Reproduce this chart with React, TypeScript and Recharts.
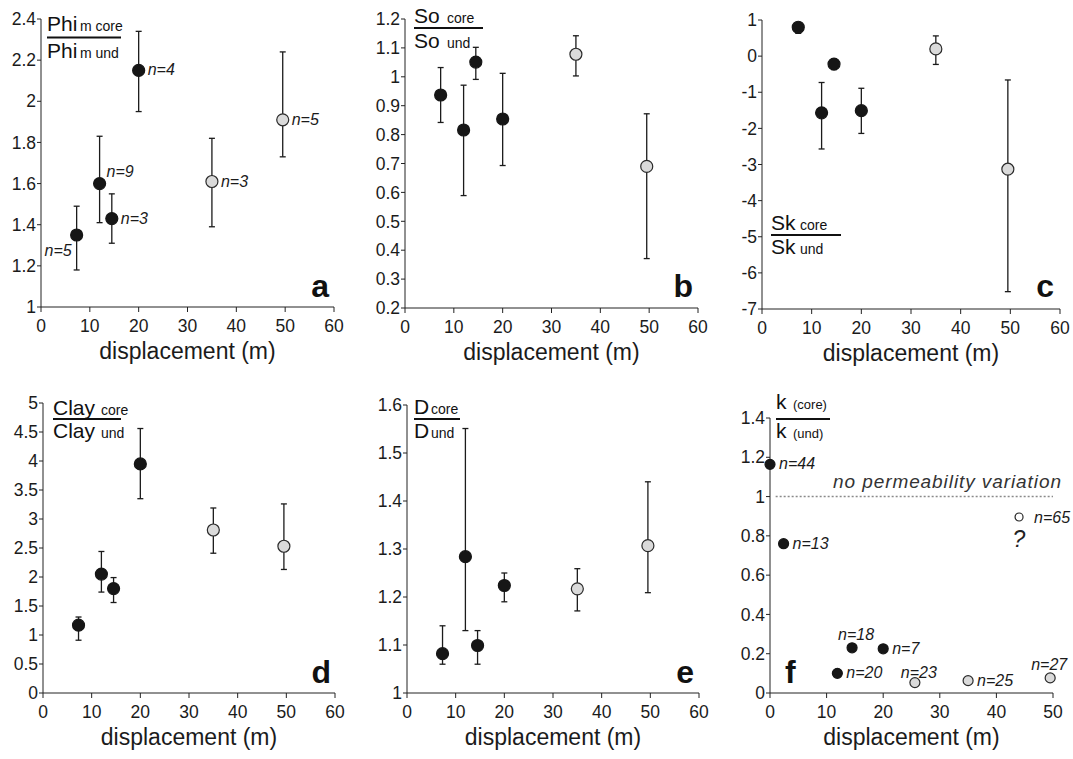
import React from 'react';
import { ScatterChart, Scatter, XAxis, YAxis, ErrorBar, ReferenceLine } from 'recharts';

// shared displacement of the six fault zones (m)
const displacement = [7.3, 12, 14.5, 20, 35, 49.5];
const zoneGroup = ['black', 'black', 'black', 'black', 'gray', 'gray'];

const phiMean = [1.35, 1.6, 1.43, 2.15, 1.61, 1.91];
const phiLow = [1.18, 1.41, 1.31, 1.95, 1.39, 1.73];
const phiHigh = [1.49, 1.83, 1.55, 2.34, 1.82, 2.24];
const phiN = [5, 9, 3, 4, 3, 5];
const phiLabelPlace = ['leftBelow', 'rightUp', 'right', 'right', 'right', 'right'];

const soMean = [0.937, 0.816, 1.051, 0.854, 1.078, 0.69];
const soLow = [0.842, 0.589, 0.991, 0.693, 1.003, 0.371];
const soHigh = [1.032, 0.971, 1.102, 1.012, 1.142, 0.872];

const skMean = [0.8, -1.57, -0.22, -1.51, 0.2, -3.13];
const skLow = [0.63, -2.57, -0.37, -2.14, -0.23, -6.52];
const skHigh = [0.9, -0.73, -0.1, -0.89, 0.56, -0.66];

const clayMean = [1.17, 2.05, 1.8, 3.95, 2.81, 2.53];
const clayLow = [0.91, 1.74, 1.56, 3.35, 2.41, 2.13];
const clayHigh = [1.31, 2.44, 1.99, 4.56, 3.19, 3.26];

const dMean = [1.082, 1.284, 1.099, 1.224, 1.217, 1.307];
const dLow = [1.06, 1.13, 1.06, 1.19, 1.171, 1.209];
const dHigh = [1.14, 1.551, 1.13, 1.25, 1.259, 1.44];

// permeability panel
const kDisp = [0, 2.4, 11.9, 14.5, 20, 25.6, 35, 49.5, 44];
const kRatio = [1.164, 0.76, 0.1, 0.23, 0.225, 0.053, 0.063, 0.077, 0.896];
const kN = [44, 13, 20, 18, 7, 23, 25, 27, 65];
const kGroup = ['black', 'black', 'black', 'black', 'black', 'gray', 'gray', 'gray', 'open'];
const kLabelPlace = ['right', 'right', 'right', 'above', 'right', 'aboveTight', 'right', 'aboveLeft', 'farRight'];

const xTicks60 = [0, 10, 20, 30, 40, 50, 60];
const xTicks50 = [0, 10, 20, 30, 40, 50];

const FONT = '"Liberation Sans", Arial, Helvetica, sans-serif';
const INK = '#1b1b1b';
const AXIS = '#222';

const places: Record<string, { dx: number; dy: number; anchor: 'start' | 'middle' | 'end' }> = {
  right: { dx: 9, dy: 5, anchor: 'start' },
  rightUp: { dx: 7, dy: -7, anchor: 'start' },
  leftBelow: { dx: -5, dy: 21, anchor: 'end' },
  above: { dx: 4, dy: -8, anchor: 'middle' },
  aboveTight: { dx: 4, dy: -5, anchor: 'middle' },
  aboveLeft: { dx: -1, dy: -8, anchor: 'middle' },
  farRight: { dx: 15, dy: 6, anchor: 'start' },
};

const dotStyles: Record<string, { fill: string; stroke: string; r: number }> = {
  black: { fill: '#161616', stroke: '#161616', r: 6 },
  gray: { fill: '#dadada', stroke: '#2a2a2a', r: 6 },
  kblack: { fill: '#161616', stroke: '#161616', r: 5 },
  kgray: { fill: '#dadada', stroke: '#2a2a2a', r: 5 },
  kopen: { fill: '#ffffff', stroke: '#2a2a2a', r: 4 },
};

type Row = { x: number; y: number; err: number[] | null; n: number | null; place: string; g: string };

function buildRows(xs: number[], ys: number[], lo: number[] | null, hi: number[] | null, ns: number[] | null, pl: string[] | null, groups: string[]): Row[] {
  return xs.map((x, i) => ({
    x,
    y: ys[i],
    err: lo && hi ? [ys[i] - lo[i], hi[i] - ys[i]] : null,
    n: ns ? ns[i] : null,
    place: pl ? pl[i] : 'right',
    g: groups[i],
  }));
}

const makeShape = (styleKey: string) => (p: any) => {
  const st = dotStyles[styleKey];
  const { cx, cy, payload } = p;
  const o = places[payload.place] || places.right;
  return (
    <g>
      <circle cx={cx} cy={cy} r={st.r} fill={st.fill} stroke={st.stroke} strokeWidth={1.2} />
      {payload.n != null && (
        <text x={cx + o.dx} y={cy + o.dy} textAnchor={o.anchor} fontSize={16} fontStyle="italic" fill={INK} fontFamily={FONT}>
          n={payload.n}
        </text>
      )}
    </g>
  );
};

interface PanelProps {
  left: number;
  top: number;
  pw: number;
  ph: number;
  xDomain: number[];
  xTicks: number[];
  yDomain: number[];
  yTicks: number[];
  rows: Row[];
  groups: { g: string; style: string }[];
  withErr: boolean;
  refY?: number;
}

const Panel: React.FC<PanelProps> = ({ left, top, pw, ph, xDomain, xTicks, yDomain, yTicks, rows, groups, withErr, refY }) => {
  const mTop = 10;
  const yw = 40;
  const mRight = 25;
  const xh = 60;
  return (
    <div style={{ position: 'absolute', left: left - yw, top: top - mTop }}>
      <ScatterChart width={yw + pw + mRight} height={mTop + ph + xh} margin={{ top: mTop, right: mRight, bottom: 0, left: 0 }}>
        <XAxis
          type="number"
          dataKey="x"
          domain={xDomain}
          ticks={xTicks}
          interval={0}
          height={xh}
          tickSize={5}
          tickMargin={8}
          stroke={AXIS}
          tick={{ fill: INK, fontSize: 17.5, fontFamily: FONT }}
          label={{ value: 'displacement (m)', position: 'insideBottom', offset: 8, fill: INK, fontSize: 23, fontFamily: FONT }}
        />
        <YAxis
          type="number"
          dataKey="y"
          domain={yDomain}
          ticks={yTicks}
          interval={0}
          width={yw}
          tickSize={4}
          tickMargin={1}
          stroke={AXIS}
          tick={{ fill: INK, fontSize: 17.5, fontFamily: FONT }}
        />
        {refY != null && (
          <ReferenceLine segment={[{ x: 1, y: refY }, { x: 50, y: refY }]} stroke="#8a8a8a" strokeWidth={1.5} strokeDasharray="2 2" />
        )}
        {groups.map((gr) => (
          <Scatter key={gr.g} data={rows.filter((r) => r.g === gr.g)} shape={makeShape(gr.style)} isAnimationActive={false}>
            {withErr && <ErrorBar dataKey="err" direction="y" width={3} stroke={INK} strokeWidth={1.3} />}
          </Scatter>
        ))}
      </ScatterChart>
    </div>
  );
};

interface FracProps {
  x: number;
  subX: number;
  y1: number;
  y2: number;
  lineY: number;
  lineEnd: number;
  big: string;
  sub1: string;
  sub2: string;
  subSize?: number;
}

const Frac: React.FC<FracProps> = ({ x, subX, y1, y2, lineY, lineEnd, big, sub1, sub2, subSize = 14 }) => (
  <g fill="#111" fontFamily={FONT}>
    <text x={x} y={y1} fontSize={21}>{big}</text>
    <text x={subX} y={y1} fontSize={subSize}>{sub1}</text>
    <line x1={x} x2={lineEnd} y1={lineY} y2={lineY} stroke="#111" strokeWidth={2} />
    <text x={x} y={y2} fontSize={21}>{big}</text>
    <text x={subX} y={y2} fontSize={subSize}>{sub2}</text>
  </g>
);

const baseGroups = [
  { g: 'black', style: 'black' },
  { g: 'gray', style: 'gray' },
];
const kGroups = [
  { g: 'black', style: 'kblack' },
  { g: 'gray', style: 'kgray' },
  { g: 'open', style: 'kopen' },
];

export default function App() {
  const phiRows = buildRows(displacement, phiMean, phiLow, phiHigh, phiN, phiLabelPlace, zoneGroup);
  const soRows = buildRows(displacement, soMean, soLow, soHigh, null, null, zoneGroup);
  const skRows = buildRows(displacement, skMean, skLow, skHigh, null, null, zoneGroup);
  const clayRows = buildRows(displacement, clayMean, clayLow, clayHigh, null, null, zoneGroup);
  const dRows = buildRows(displacement, dMean, dLow, dHigh, null, null, zoneGroup);
  const kRows = buildRows(kDisp, kRatio, null, null, kN, kLabelPlace, kGroup);

  return (
    <div style={{ position: 'absolute', left: 0, top: 0, width: 1073, height: 759, background: '#fff', fontFamily: FONT }}>
      <Panel left={41} top={19} pw={293} ph={288} xDomain={[0, 60]} xTicks={xTicks60} yDomain={[1, 2.4]}
        yTicks={[1, 1.2, 1.4, 1.6, 1.8, 2, 2.2, 2.4]} rows={phiRows} groups={baseGroups} withErr />
      <Panel left={405} top={19} pw={293} ph={289} xDomain={[0, 60]} xTicks={xTicks60} yDomain={[0.2, 1.2]}
        yTicks={[0.2, 0.3, 0.4, 0.5, 0.6, 0.7, 0.8, 0.9, 1, 1.1, 1.2]} rows={soRows} groups={baseGroups} withErr />
      <Panel left={762} top={20} pw={298} ph={289} xDomain={[0, 60]} xTicks={xTicks60} yDomain={[-7, 1]}
        yTicks={[-7, -6, -5, -4, -3, -2, -1, 0, 1]} rows={skRows} groups={baseGroups} withErr />
      <Panel left={43} top={403} pw={292} ph={290} xDomain={[0, 60]} xTicks={xTicks60} yDomain={[0, 5]}
        yTicks={[0, 0.5, 1, 1.5, 2, 2.5, 3, 3.5, 4, 4.5, 5]} rows={clayRows} groups={baseGroups} withErr />
      <Panel left={407} top={405} pw={292} ph={288} xDomain={[0, 60]} xTicks={xTicks60} yDomain={[1, 1.6]}
        yTicks={[1, 1.1, 1.2, 1.3, 1.4, 1.5, 1.6]} rows={dRows} groups={baseGroups} withErr />
      <Panel left={770} top={418} pw={283} ph={275} xDomain={[0, 50]} xTicks={xTicks50} yDomain={[0, 1.4]}
        yTicks={[0, 0.2, 0.4, 0.6, 0.8, 1, 1.2, 1.4]} rows={kRows} groups={kGroups} withErr={false} refY={1} />

      <svg width={1073} height={759} style={{ position: 'absolute', left: 0, top: 0, pointerEvents: 'none' }}>
        <Frac x={47} subX={80} y1={31} y2={58} lineY={37.5} lineEnd={121} big="Phi" sub1="m core" sub2="m  und" />
        <Frac x={414} subX={447} y1={23} y2={48} lineY={28} lineEnd={483} big="So" sub1="core" sub2="und" />
        <Frac x={771} subX={800} y1={230} y2={254} lineY={235} lineEnd={841} big="Sk" sub1="core" sub2="und" />
        <Frac x={53} subX={101} y1={415} y2={438} lineY={419} lineEnd={121} big="Clay" sub1="core" sub2="und" />
        <Frac x={414} subX={431} y1={414} y2={438} lineY={419} lineEnd={460} big="D" sub1="core" sub2="und" />
        <Frac x={776} subX={793} y1={409} y2={438} lineY={419} lineEnd={830} big="k" sub1="(core)" sub2="(und)" subSize={13} />

        <g fontFamily={FONT} fontWeight="bold" fontSize={32} fill="#111">
          <text x={329} y={297} textAnchor="end">a</text>
          <text x={693} y={297} textAnchor="end">b</text>
          <text x={1054} y={297} textAnchor="end">c</text>
          <text x={331} y={683} textAnchor="end">d</text>
          <text x={694} y={683} textAnchor="end">e</text>
          <text x={785} y={683}>f</text>
        </g>
        <text x={833} y={488} fontSize={19} fontStyle="italic" fill="#333" fontFamily={FONT} textLength={228} lengthAdjust="spacing">
          no permeability variation
        </text>
        <text x={1019} y={547} fontSize={23} fontStyle="italic" fill="#222" fontFamily={FONT} textAnchor="middle">?</text>
      </svg>
    </div>
  );
}
